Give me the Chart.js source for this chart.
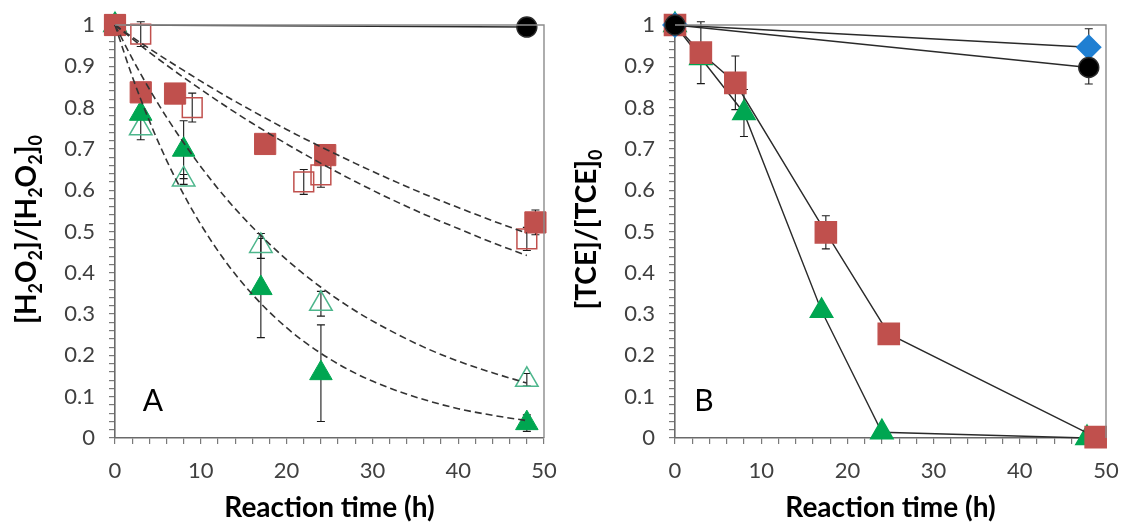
<!DOCTYPE html>
<html>
<head>
<meta charset="utf-8">
<script src="https://cdn.jsdelivr.net/npm/chart.js@4.4.1/dist/chart.umd.min.js"></script>
<style>
  html, body { margin: 0; padding: 0; background: #ffffff; }
  #wrap { position: relative; width: 1126px; height: 524px; overflow: hidden; }
  #cA { position: absolute; left: 0; top: 0; width: 560px; height: 524px; }
  #cB { position: absolute; left: 560px; top: 0; width: 566px; height: 524px; }
</style>
</head>
<body>
<div id="wrap">
  <canvas id="cA" width="560" height="524"></canvas>
  <canvas id="cB" width="566" height="524"></canvas>
</div>
<script>
// ---------- Panel A: H2O2 decay ----------
const aCircleX = [0, 48];
const aCircleY = [1, 0.995];

const aSqFilledX = [0, 3, 7, 17.5, 24.5, 49];
const aSqFilledY = [1, 0.837, 0.834, 0.712, 0.685, 0.522];
const aSqFilledErr = [0, 0, 0, 0, 0, 0.03];

const aSqOpenX = [0, 3, 9, 22, 24, 48];
const aSqOpenY = [1, 0.978, 0.80, 0.62, 0.637, 0.482];
const aSqOpenErr = [0, 0.03, 0.035, 0.03, 0.03, 0.028];

const aTriFilledX = [0, 3, 8, 17, 24, 48];
const aTriFilledY = [1, 0.785, 0.698, 0.363, 0.157, 0.036];
const aTriFilledErr = [0, 0.012, 0.07, 0.12, 0.117, 0.02];

const aTriOpenX = [0, 3, 8, 17, 24, 48];
const aTriOpenY = [1, 0.75, 0.626, 0.465, 0.325, 0.141];
const aTriOpenErr = [0, 0.028, 0.012, 0.03, 0.03, 0.015];

// dashed first-order fit curves
const fitX = [0, 2, 4, 6, 8, 10, 13, 16, 20, 24, 28, 32, 36, 40, 44, 48];
const fitSqUpper = [1, 0.971, 0.943, 0.916, 0.890, 0.864, 0.827, 0.792, 0.747, 0.705, 0.665, 0.627, 0.591, 0.558, 0.526, 0.496];
const fitSqLower = [1, 0.967, 0.934, 0.903, 0.873, 0.844, 0.802, 0.762, 0.712, 0.665, 0.621, 0.580, 0.542, 0.507, 0.473, 0.442];
const fitTriOpen = [1, 0.919, 0.845, 0.777, 0.715, 0.657, 0.579, 0.511, 0.432, 0.365, 0.308, 0.261, 0.220, 0.186, 0.158, 0.133];
const fitTriFilled = [1, 0.876, 0.768, 0.673, 0.590, 0.517, 0.424, 0.348, 0.267, 0.205, 0.157, 0.121, 0.093, 0.071, 0.055, 0.042];

// ---------- Panel B: TCE removal ----------
const bCircleX = [0, 48];
const bCircleY = [1, 0.897];
const bCircleErr = [0, 0.04];

const bDiamondX = [0, 48];
const bDiamondY = [1, 0.946];
const bDiamondErr = [0, 0.045];

const bSquareX = [0, 3, 7, 17.5, 24.8, 48.8];
const bSquareY = [1, 0.933, 0.86, 0.498, 0.252, 0.002];
const bSquareErr = [0, 0.075, 0.065, 0.04, 0, 0];

const bTriX = [0, 3, 8, 17, 24, 47.8];
const bTriY = [1, 0.92, 0.787, 0.308, 0.014, 0];
const bTriErr = [0, 0, 0.057, 0, 0, 0];

// ---------- axis text ----------
const xTitle = 'Reaction time (h)';
// [text, isSubscript]
const yTitleA = [['[H', 0], ['2', 1], ['O', 0], ['2', 1], [']/[H', 0], ['2', 1], ['O', 0], ['2', 1], [']', 0], ['0', 1]];
const yTitleB = [['[TCE]/[TCE]', 0], ['0', 1]];
const panelLetters = ['A', 'B'];

const RED = '#C0504D';
const GREEN = '#00A651';
const OPEN_GREEN = '#4DB68C';
const BLUE = '#1F7FD2';
const FONT = 'Lato, "Open Sans", sans-serif';

function pts(xs, ys) { return xs.map((x, i) => ({ x: x, y: ys[i] })); }

function drawRich(ctx, parts, cx, cy, rot, size) {
  ctx.save();
  ctx.translate(cx, cy);
  ctx.rotate(rot);
  const big = 'bold ' + size + 'px ' + FONT;
  const small = 'bold ' + Math.round(size * 0.64) + 'px ' + FONT;
  let total = 0;
  parts.forEach(p => { ctx.font = p[1] ? small : big; total += ctx.measureText(p[0]).width; });
  let x = -total / 2;
  ctx.textBaseline = 'middle';
  ctx.textAlign = 'left';
  ctx.fillStyle = '#000';
  parts.forEach(p => {
    ctx.font = p[1] ? small : big;
    ctx.fillText(p[0], x, p[1] ? size * 0.32 : 0);
    x += ctx.measureText(p[0]).width;
  });
  ctx.restore();
}

const panelPlugin = {
  id: 'panelDecor',
  beforeDatasetsDraw(chart) {
    const ctx = chart.ctx;
    const ys = chart.scales.y;
    ctx.save();
    ctx.strokeStyle = '#1a1a1a';
    ctx.lineWidth = 1.1;
    chart.data.datasets.forEach((ds, i) => {
      if (!ds.errorBars) return;
      const meta = chart.getDatasetMeta(i);
      ds.errorBars.forEach((e, j) => {
        if (!e) return;
        const px = meta.data[j].x;
        const v = ds.data[j].y;
        const top = ys.getPixelForValue(v + e);
        const bot = ys.getPixelForValue(v - e);
        ctx.beginPath();
        ctx.moveTo(px, top); ctx.lineTo(px, bot);
        ctx.moveTo(px - 4, top); ctx.lineTo(px + 4, top);
        ctx.moveTo(px - 4, bot); ctx.lineTo(px + 4, bot);
        ctx.stroke();
      });
    });
    ctx.restore();
  },
  afterDraw(chart, args, opts) {
    const ctx = chart.ctx;
    const a = chart.chartArea;
    // top and right frame
    ctx.save();
    ctx.strokeStyle = '#8c8c8c';
    ctx.lineWidth = 1.4;
    ctx.beginPath();
    ctx.moveTo(a.left, a.top); ctx.lineTo(a.right, a.top); ctx.lineTo(a.right, a.bottom);
    ctx.stroke();
    // panel letter
    ctx.fillStyle = '#000';
    ctx.font = '30px ' + FONT;
    ctx.textAlign = 'center';
    ctx.textBaseline = 'middle';
    ctx.fillText(opts.letter, a.left + opts.letterDx, 401);
    // axis titles
    ctx.font = 'bold 28px ' + FONT;
    ctx.fillText(xTitle, (a.left + a.right) / 2, 508);
    ctx.restore();
    drawRich(ctx, opts.yTitle, 27, (a.top + a.bottom) / 2 - 2, -Math.PI / 2, 28);
  }
};

function makeOptions(rightPad, letter, letterDx, yTitle) {
  return {
    responsive: false,
    animation: false,
    events: [],
    clip: false,
    layout: { padding: { left: 0, top: 25, right: rightPad, bottom: 0 } },
    plugins: {
      legend: { display: false },
      tooltip: { enabled: false },
      panelDecor: { letter: letter, letterDx: letterDx, yTitle: yTitle }
    },
    scales: {
      x: {
        type: 'linear', min: 0, max: 50,
        ticks: {
          stepSize: 2, autoSkip: false, maxRotation: 0, padding: 14,
          color: '#404040', font: { family: FONT, size: 22 },
          callback: v => (Math.round(v) % 10 === 0 ? String(Math.round(v)) : '')
        },
        grid: { drawOnChartArea: false, drawTicks: true, tickLength: 6, color: '#7a7a7a', lineWidth: 1.2 },
        border: { display: true, color: '#6a6a6a', width: 1.6 },
        afterFit: s => { s.height = 86; s.paddingLeft = 0; s.paddingRight = 0; }
      },
      y: {
        type: 'linear', min: 0, max: 1,
        ticks: {
          stepSize: 0.02, autoSkip: false, padding: 14,
          color: '#404040', font: { family: FONT, size: 22 },
          callback: v => (Math.round(v * 50) % 5 === 0 ? String(Math.round(v * 10) / 10) : '')
        },
        grid: { drawOnChartArea: false, drawTicks: true, tickLength: 6, color: '#7a7a7a', lineWidth: 1.2 },
        border: { display: true, color: '#6a6a6a', width: 1.6 },
        afterFit: s => { s.width = 115; s.paddingTop = 0; s.paddingBottom = 0; }
      }
    }
  };
}

function fitCurve(ys) {
  return {
    data: pts(fitX, ys), showLine: true, pointRadius: 0,
    borderColor: '#333333', borderWidth: 1.6, borderDash: [7, 4],
    cubicInterpolationMode: 'monotone', order: 0
  };
}

new Chart(document.getElementById('cA'), {
  type: 'scatter',
  data: {
    datasets: [
      fitCurve(fitSqUpper),
      fitCurve(fitSqLower),
      fitCurve(fitTriOpen),
      fitCurve(fitTriFilled),
      { data: pts(aCircleX, aCircleY), showLine: true, borderColor: '#2a2a2a', borderWidth: 1.4,
        pointStyle: 'circle', pointRadius: 10, backgroundColor: '#000', order: 6 },
      { data: pts(aSqFilledX, aSqFilledY), errorBars: aSqFilledErr, pointStyle: 'rect', pointRadius: 15,
        backgroundColor: RED, borderColor: RED, borderWidth: 1, order: 2 },
      { data: pts(aTriFilledX, aTriFilledY), errorBars: aTriFilledErr, pointStyle: 'triangle', pointRadius: 13,
        backgroundColor: GREEN, borderColor: GREEN, borderWidth: 1, order: 3 },
      { data: pts(aSqOpenX, aSqOpenY), errorBars: aSqOpenErr, pointStyle: 'rect', pointRadius: 14,
        backgroundColor: 'rgba(255,255,255,0)', borderColor: RED, borderWidth: 1.5, order: 4 },
      { data: pts(aTriOpenX, aTriOpenY), errorBars: aTriOpenErr, pointStyle: 'triangle', pointRadius: 13,
        backgroundColor: 'rgba(255,255,255,0)', borderColor: OPEN_GREEN, borderWidth: 1.5, order: 5 }
    ]
  },
  options: makeOptions(11, panelLetters[0], 38, yTitleA),
  plugins: [panelPlugin]
});

new Chart(document.getElementById('cB'), {
  type: 'scatter',
  data: {
    datasets: [
      { data: pts(bCircleX, bCircleY), errorBars: bCircleErr, showLine: true, borderColor: '#2a2a2a', borderWidth: 1.4,
        pointStyle: 'circle', pointRadius: 10, backgroundColor: '#000', order: 1 },
      { data: pts(bDiamondX, bDiamondY), errorBars: bDiamondErr, showLine: true, borderColor: '#2a2a2a', borderWidth: 1.4,
        pointStyle: 'rectRot', pointRadius: 12, backgroundColor: BLUE, pointBorderColor: BLUE, order: 2 },
      { data: pts(bSquareX, bSquareY), errorBars: bSquareErr, showLine: true, borderColor: '#2a2a2a', borderWidth: 1.4,
        pointStyle: 'rect', pointRadius: 15, backgroundColor: RED, pointBorderColor: RED, order: 3 },
      { data: pts(bTriX, bTriY), errorBars: bTriErr, showLine: true, borderColor: '#2a2a2a', borderWidth: 1.4,
        pointStyle: 'triangle', pointRadius: 13, backgroundColor: GREEN, pointBorderColor: GREEN, order: 4 }
    ]
  },
  options: makeOptions(20, panelLetters[1], 29, yTitleB),
  plugins: [panelPlugin]
});
</script>
</body>
</html>
